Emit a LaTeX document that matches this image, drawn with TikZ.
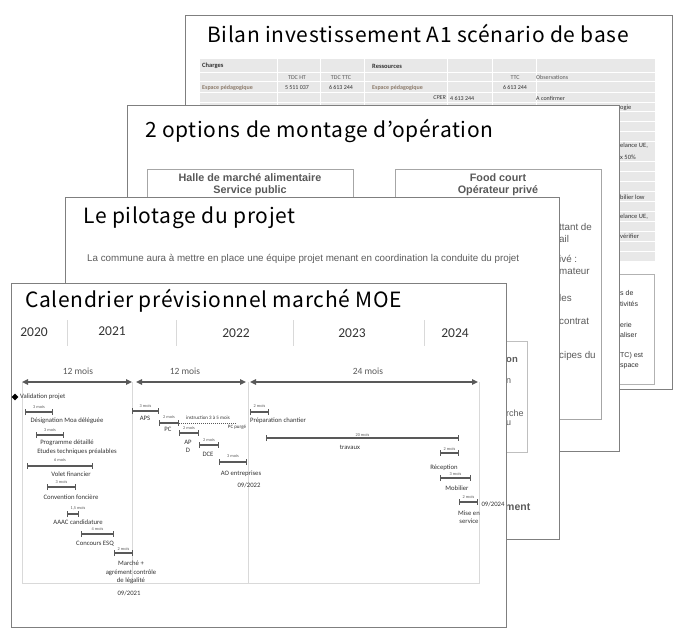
\documentclass[tikz,border=0pt]{standalone}
\usepackage{fontspec}
\setmainfont{Liberation Sans}
\newfontfamily\titlefont[LetterSpace=3.2]{Noto Sans CJK JP}
\newfontfamily\califont{Carlito}
\usetikzlibrary{arrows.meta,shapes.geometric}
\definecolor{slideedge}{HTML}{7F7F7F}
\definecolor{bargray}{HTML}{595959}
\definecolor{txtdark}{HTML}{333333}
\definecolor{txtgray}{HTML}{595959}
\definecolor{tablegray}{HTML}{E8E8E8}
\definecolor{gridgray}{HTML}{D9D9D9}
\definecolor{brownish}{HTML}{8C7B6B}
\newcommand{\gbar}[6]{%
  \coordinate (#1s) at (#2,#4);
  \coordinate (#1e) at (#3,#4);
  \draw[ganttbar] (#1s) -- (#1e) node[mois, midway, yshift=#6] (#1d) {#5};
}
\tikzset{
  slide/.style={draw=slideedge, line width=0.8pt, fill=white},
  slidetitle/.style={anchor=west, font=\titlefont\fontsize{21}{21}\selectfont, text=black, inner sep=0pt},
  gtext/.style={font=\califont\fontsize{6.7}{8.5}\selectfont, text=txtdark, inner sep=0pt, align=center},
  mois/.style={font=\califont\fontsize{4.3}{5}\selectfont, text=txtgray, inner sep=0pt},
  ganttbar/.style={draw=bargray, line width=1.4pt, {Bar[width=6pt,line width=1pt]}-{Bar[width=6pt,line width=1pt]}},
  spanarrow/.style={draw=bargray, line width=1.5pt, {Triangle[width=5.5pt,length=6pt]}-{Triangle[width=5.5pt,length=6pt]}},
  spanlabel/.style={font=\califont\fontsize{9.5}{10}\selectfont, text=txtgray, inner sep=0pt},
  yearlabel/.style={font=\califont\fontsize{13.5}{14}\selectfont, text=txtdark, inner sep=0pt},
  gridline/.style={draw=gridgray, line width=0.6pt},
  tabtext/.style={font=\califont\fontsize{6}{7}\selectfont, text=txtgray, inner sep=0pt},
  tabbold/.style={font=\califont\bfseries\fontsize{6.5}{7}\selectfont, text=txtdark, inner sep=0pt},
  striptext/.style={font=\califont\fontsize{6.5}{7}\selectfont, text=txtdark, inner sep=0pt, anchor=west},
  boxhead/.style={font=\bfseries\fontsize{10.8}{11}\selectfont, text=txtgray, inner sep=0pt},
  arialtext/.style={font=\fontsize{9.8}{11}\selectfont, text=txtdark!80!white, inner sep=0pt, anchor=west},
}
\begin{document}
\begin{tikzpicture}[x=1pt,y=-1pt]
\useasboundingbox[fill=white] (0,0) rectangle (685,644);

% ---------------- Slide A : Bilan ----------------
\draw[slide] (185,15) rectangle (672,389);
\node[slidetitle] (titleA) at (207,33) {Bilan investissement A1 scénario de base};
\fill[tablegray] (200,59) rectangle (655,261);
\foreach \yy in {73,82,93,103,112,122,132,142,162,172,182,192,202,212,222,232,242,252}
  \draw[white, line width=1pt] (200,\yy) -- (655,\yy);
\foreach \xx in {277,320,364,447,492,536}
  \draw[white, line width=1pt] (\xx,59) -- (\xx,261);
\node[tabbold, anchor=west] (tCharges) at (202,66) {Charges};
\node[tabbold, anchor=west] (tRess) at (372,66) {Ressources};
\node[tabtext] (tHT) at (297,77.5) {TDC HT};
\node[tabtext] (tTTC) at (341,77.5) {TDC TTC};
\node[tabtext] (tTTC2) at (515,77.5) {TTC};
\node[tabtext, anchor=west] (tObs) at (536,77.5) {Observations};
\node[tabtext, anchor=west, text=brownish, font=\califont\bfseries\fontsize{6}{7}\selectfont] (tEsp1) at (202,87.5) {Espace pédagogique};
\node[tabtext, text=txtdark] (tv1) at (297,87.5) {5 511 037};
\node[tabtext, text=txtdark] (tv2) at (341,87.5) {6 613 244};
\node[tabtext, anchor=west, text=brownish, font=\califont\bfseries\fontsize{6}{7}\selectfont] (tEsp2) at (372,87.5) {Espace pédagogique};
\node[tabtext, text=txtdark] (tv3) at (515,87.5) {6 613 244};
\node[tabtext, anchor=east, font=\califont\itshape\fontsize{6}{7}\selectfont, text=txtdark] (tCPER) at (446,98) {CPER};
\node[tabtext, anchor=west, text=txtdark] (tv4) at (450,98) {4 613 244};
\node[tabtext, anchor=west, text=txtdark] (tConf) at (536,98) {A confirmer};
\node[striptext] (sA1) at (620,108) {ogie};
\node[striptext] (sA2) at (620,146) {elance UE,};
\node[striptext] (sA3) at (620,157) {x 50\%};
\node[striptext] (sA4) at (620,197) {bilier low};
\node[striptext] (sA5) at (620,217) {elance UE,};
\node[striptext] (sA6) at (620,236) {vérifier};
\draw[draw=gray!60, line width=0.8pt, fill=white] (590,274) rectangle (654,384);
\node[striptext, font=\fontsize{7}{8}\selectfont] (bA1) at (620,293) {s de};
\node[striptext, font=\fontsize{7}{8}\selectfont] (bA2) at (620,304) {tivités};
\node[striptext, font=\fontsize{7}{8}\selectfont] (bA3) at (620,325) {erie};
\node[striptext, font=\fontsize{7}{8}\selectfont] (bA4) at (620,335) {aliser};
\node[striptext, font=\fontsize{7}{8}\selectfont] (bA5) at (620,356) {TC) est};
\node[striptext, font=\fontsize{7}{8}\selectfont] (bA6) at (620,366) {space};

% ---------------- Slide B : 2 options ----------------
\draw[slide] (127,105) rectangle (619,451);
\node[slidetitle] (titleB) at (145,131) {2 options de montage d’opération};
\draw[draw=gray!70, line width=0.8pt] (147,169) rectangle (353,240);
\draw[draw=gray!70, line width=0.8pt] (395,169) rectangle (601,419);
\node[boxhead] (hHalle) at (250,178) {Halle de marché alimentaire};
\node[boxhead] (hServ) at (250,191) {Service public};
\node[boxhead] (hFood) at (498,178) {Food court};
\node[boxhead] (hOp) at (498,191) {Opérateur privé};
\node[arialtext] (rB1) at (559,227) {ttant de};
\node[arialtext] (rB2) at (559,239) {ail};
\node[arialtext] (rB3) at (559,259) {ivé :};
\node[arialtext] (rB4) at (559,271) {mateur};
\node[arialtext] (rB5) at (559,298) {les};
\node[arialtext] (rB6) at (559,321) {contrat};
\node[arialtext] (rB7) at (559,356) {cipes du};

% ---------------- Slide C : pilotage ----------------
\draw[slide] (65,197) rectangle (559,539);
\node[slidetitle] (titleC) at (83,218) {Le pilotage du projet};
\node[arialtext] (pilText) at (87,259) {La commune aura à mettre en place une équipe projet menant en coordination la conduite du projet};
\draw[draw=gray!50, line width=0.8pt] (470,341) rectangle (527,452);
\node[arialtext, font=\bfseries\fontsize{9.5}{10}\selectfont] (cC1) at (506,360) {on};
\node[arialtext, font=\fontsize{9}{10}\selectfont] (cC2) at (506,381) {n};
\node[arialtext, font=\fontsize{9}{10}\selectfont] (cC3) at (506,413) {rche};
\node[arialtext, font=\fontsize{9}{10}\selectfont] (cC4) at (506,423) {u};
\node[arialtext, font=\bfseries\fontsize{10.5}{11}\selectfont] (cC5) at (505,507) {ment};

% ---------------- Slide D : calendrier ----------------
\draw[slide] (11,283) rectangle (506,627);
\node[slidetitle] (titleD) at (25,301) {Calendrier prévisionnel marché MOE};
% years
\foreach \xx in {67,176,293,424}
  \draw[gridline] (\xx,320) -- (\xx,346);
\node[yearlabel] (y2020) at (34,332) {2020};
\node[yearlabel] (y2021) at (112,331) {2021};
\node[yearlabel] (y2022) at (236,333) {2022};
\node[yearlabel] (y2023) at (352,333) {2023};
\node[yearlabel] (y2024) at (455,333) {2024};
% grid
\coordinate (g1t) at (22,382);  \coordinate (g1b) at (22,583);
\coordinate (g2t) at (132,382); \coordinate (g2b) at (132,583);
\coordinate (g3t) at (248,382); \coordinate (g3b) at (248,583);
\coordinate (g4t) at (479,382); \coordinate (g4b) at (479,583);
\draw[gridline] (g1t) -- (g1b) -- (g4b) -- (g4t);
\draw[gridline] (g2t) -- (g2b);
\draw[gridline] (g3t) -- (g3b);
% span arrows
\coordinate (s1a) at (22,382);  \coordinate (s1b) at (132,382);
\coordinate (s2a) at (136,382); \coordinate (s2b) at (246,382);
\coordinate (s3a) at (250,382); \coordinate (s3b) at (478,382);
\draw[spanarrow] (s1a) -- (s1b);
\draw[spanarrow] (s2a) -- (s2b);
\draw[spanarrow] (s3a) -- (s3b);
\node[spanlabel] (l12a) at (78,371) {12 mois};
\node[spanlabel] (l12b) at (185,371) {12 mois};
\node[spanlabel] (l24) at (368,371) {24 mois};
% tasks
\node[diamond, fill=black, minimum size=7pt, inner sep=0pt] (valid) at (15,397) {};
\node[gtext, anchor=west] (validT) at (20,397) {Validation projet};
\gbar{moa}{25}{53}{412}{3 mois}{5pt}
\node[gtext] (moaT) at (67,421) {Désignation Moa déléguée};
\gbar{prog}{36}{64}{435}{3 mois}{5pt}
\node[gtext] (progT1) at (67,443) {Programme détaillé};
\node[gtext] (progT2) at (77,452) {Etudes techniques préalables};
\gbar{volet}{27}{93}{466}{6 mois}{6pt}
\node[gtext] (voletT) at (71,474) {Volet financier};
\gbar{conv}{47}{76}{487}{3 mois}{5pt}
\node[gtext] (convT) at (71,497) {Convention foncière};
\coordinate (aaacs) at (67,514); \coordinate (aaace) at (79,514);
\draw[ganttbar] (aaacs) -- (aaace);
\node[mois] (aaacd) at (78,508.5) {1,5 mois};
\node[gtext] (aaacT) at (78,522) {AAAC candidature};
\gbar{esq}{81}{114}{534}{4 mois}{4.5pt}
\node[gtext] (esqT) at (95,544) {Concours ESQ};
\gbar{mar}{114}{133}{553}{2 mois}{4pt}
\node[gtext] (marT) at (131,572.5) {Marché +\\agrément contrôle\\de légalité};
\node[gtext] (d2021) at (129,593) {09/2021};
\gbar{aps}{132}{159}{411}{3 mois}{5pt}
\node[gtext] (apsT) at (145,418.5) {APS};
\gbar{pc}{159}{179}{423}{2 mois}{5.5pt}
\node[gtext] (pcT) at (168,429.5) {PC};
\coordinate (instrEnd) at (236,423);
\draw[bargray, line width=0.4pt, dash pattern=on 1pt off 1pt] (pce) -- (instrEnd);
\node[mois, font=\califont\fontsize{5}{6}\selectfont, text=txtdark] (instrT) at (208,418) {instruction 3 à 5 mois};
\node[mois, font=\califont\fontsize{5}{6}\selectfont, text=txtdark] (purgeT) at (237,427.5) {PC purgé};
\gbar{apd}{179}{199}{433}{2 mois}{5pt}
\node[gtext] (apdT) at (188,446.5) {AP\\D};
\gbar{dce}{199}{219}{445}{2 mois}{5pt}
\node[gtext] (dceT) at (208,454) {DCE};
\gbar{ao}{219}{247}{462}{3 mois}{5.5pt}
\node[gtext] (aoT) at (241,474) {AO entreprises};
\node[gtext] (d2022) at (249,485) {09/2022};
\gbar{prep}{250}{269}{412}{2 mois}{5.5pt}
\node[gtext] (prepT) at (278,421) {Préparation chantier};
\gbar{trav}{266}{459}{438}{20 mois}{2.5pt}
\node[gtext] (travT) at (350,447) {travaux};
\gbar{rec}{440}{459}{453}{2 mois}{4pt}
\node[gtext] (recT) at (444,468) {Réception};
\gbar{mob}{440}{471}{478}{3 mois}{4pt}
\node[gtext] (mobT) at (457,488) {Mobilier};
\gbar{mise}{459}{478}{502}{2 mois}{4.5pt}
\node[gtext] (miseT) at (469,517) {Mise en\\service};
\node[gtext] (d2024) at (493,504) {09/2024};
\end{tikzpicture}
\end{document}
